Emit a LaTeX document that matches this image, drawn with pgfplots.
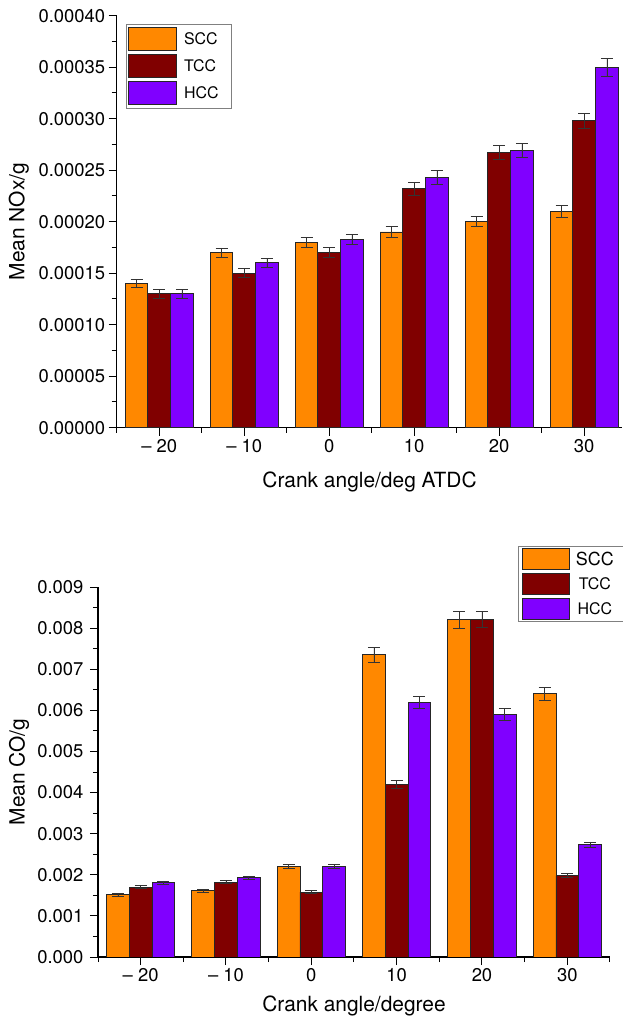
\documentclass[border=0pt]{standalone}
\usepackage{fontspec}
\setmainfont{TeX Gyre Heros}
\usepackage{pgfplots}
\pgfplotsset{compat=1.18}
\definecolor{scc}{HTML}{FF8800}
\definecolor{tcc}{HTML}{800000}
\definecolor{hcc}{HTML}{8000FF}
\pgfplotsset{
  mybars/.style={
    scale only axis,
    ybar, bar width=2.6667,
    xmin=-25, ymin=0,
    axis x line*=bottom, axis y line*=left,
    axis line style={black, line width=1.1bp},
    tick align=outside,
    major tick length=8bp, minor tick length=5bp,
    every tick/.style={black, line width=1bp},
    xtick={-20,-10,0,10,20,30},
    xticklabels={– 20,– 10,0,10,20,30},
    minor xtick={-25,-15,-5,5,15,25,35},
    minor y tick num=1,
    tick label style={font=\fontsize{18.5}{22}\selectfont},
    label style={font=\fontsize{21}{25}\selectfont},
    /pgf/number format/assume math mode=true,
    scaled y ticks=false,
    every axis plot/.append style={draw=black!85, line width=0.9bp,
      error bars/y dir=both, error bars/y explicit,
      error bars/error bar style={black!80, line width=0.7bp},
      error bars/error mark options={rotate=90, mark size=6bp, black!80, line width=0.7bp}},
  },
}
\begin{document}
\begin{tikzpicture}
\useasboundingbox (0,0) rectangle (623bp,1021bp);
% ---------- top: NOx ----------
\begin{axis}[mybars,
  at={(116.7bp,593.3bp)}, anchor=south west,
  width=505.75bp, height=412bp,
  xmax=34.5, ymax=0.0004,
  ytick={0,0.00005,0.0001,0.00015,0.0002,0.00025,0.0003,0.00035,0.0004},
  yticklabel style={/pgf/number format/.cd, fixed, fixed zerofill, precision=5},
  ylabel={Mean NOx/g},
  xlabel={Crank angle/deg ATDC},
  ylabel style={at={(axis description cs:-0.1935,0.5)}, anchor=center},
  xlabel style={at={(axis description cs:0.5,0)}, anchor=center, yshift=-54bp},
  legend cell align=left,
  legend image code/.code={\draw[#1] (0bp,-11.5bp) rectangle (48bp,11.5bp);},
  legend style={at={(axis description cs:0.018,0.980)}, anchor=north west,
    draw=black!50, line width=0.8bp, font=\fontsize{16}{19}\selectfont,
    row sep=3bp, inner xsep=2bp, inner ysep=3bp,
    nodes={inner sep=0pt},
    /tikz/every odd column/.append style={column sep=7bp}},
]
\addplot[fill=scc, bar shift=-2.6667] coordinates {
 (-20,0.000140) +- (0,0.000004) (-10,0.000170) +- (0,0.0000045) (0,0.000180) +- (0,0.000005)
 (10,0.000190) +- (0,0.000005) (20,0.000200) +- (0,0.000005) (30,0.000210) +- (0,0.0000055)};
\addplot[fill=tcc, bar shift=0] coordinates {
 (-20,0.000130) +- (0,0.000004) (-10,0.000150) +- (0,0.0000045) (0,0.000170) +- (0,0.000005)
 (10,0.000232) +- (0,0.000006) (20,0.000267) +- (0,0.0000068) (30,0.000298) +- (0,0.0000075)};
\addplot[fill=hcc, bar shift=2.6667] coordinates {
 (-20,0.000130) +- (0,0.000004) (-10,0.000160) +- (0,0.0000045) (0,0.000183) +- (0,0.0000047)
 (10,0.000243) +- (0,0.0000065) (20,0.000269) +- (0,0.0000068) (30,0.000350) +- (0,0.0000088)};
\legend{SCC\hspace*{12bp},TCC,HCC}
\end{axis}
% ---------- bottom: CO ----------
\begin{axis}[mybars,
  at={(98bp,64bp)}, anchor=south west,
  width=512bp, height=370bp,
  xmax=35, ymax=0.009,
  ytick={0,0.001,0.002,0.003,0.004,0.005,0.006,0.007,0.008,0.009},
  yticklabel style={xshift=-3bp, /pgf/number format/.cd, fixed, fixed zerofill, precision=3},
  ylabel={Mean CO/g},
  xlabel={Crank angle/degree},
  ylabel style={at={(axis description cs:-0.154,0.5)}, anchor=center},
  xlabel style={at={(axis description cs:0.5,0)}, anchor=center, yshift=-49bp},
  legend cell align=left,
  legend image code/.code={\draw[#1] (0bp,-10.5bp) rectangle (47bp,10.5bp);},
  legend style={at={(axis description cs:0.8203,1.1116)}, anchor=north west,
    draw=black!50, line width=0.8bp, font=\fontsize{16}{19}\selectfont,
    row sep=3bp, inner xsep=3.5bp, inner ysep=2bp,
    nodes={inner sep=0pt},
    /tikz/every odd column/.append style={column sep=5bp}},
]
\addplot[fill=scc, bar shift=-2.6667] coordinates {
 (-20,0.00151) +- (0,0.00003) (-10,0.00161) +- (0,0.00003) (0,0.00220) +- (0,0.00005)
 (10,0.00735) +- (0,0.00018) (20,0.00820) +- (0,0.0002) (30,0.00640) +- (0,0.00016)};
\addplot[fill=tcc, bar shift=0] coordinates {
 (-20,0.00170) +- (0,0.00004) (-10,0.00182) +- (0,0.00004) (0,0.00158) +- (0,0.00003)
 (10,0.00420) +- (0,0.0001) (20,0.00821) +- (0,0.0002) (30,0.00198) +- (0,0.00005)};
\addplot[fill=hcc, bar shift=2.6667] coordinates {
 (-20,0.00181) +- (0,0.00004) (-10,0.00193) +- (0,0.00004) (0,0.00220) +- (0,0.00005)
 (10,0.00620) +- (0,0.00015) (20,0.00590) +- (0,0.00014) (30,0.00273) +- (0,0.00007)};
\legend{\makebox[40bp][c]{\fontsize{18}{21}\selectfont SCC}\hspace*{8bp},
        \makebox[40bp][c]{TCC}\hspace*{8bp},
        \makebox[40bp][c]{HCC}\hspace*{8bp}}
\end{axis}
\end{tikzpicture}
\end{document}
